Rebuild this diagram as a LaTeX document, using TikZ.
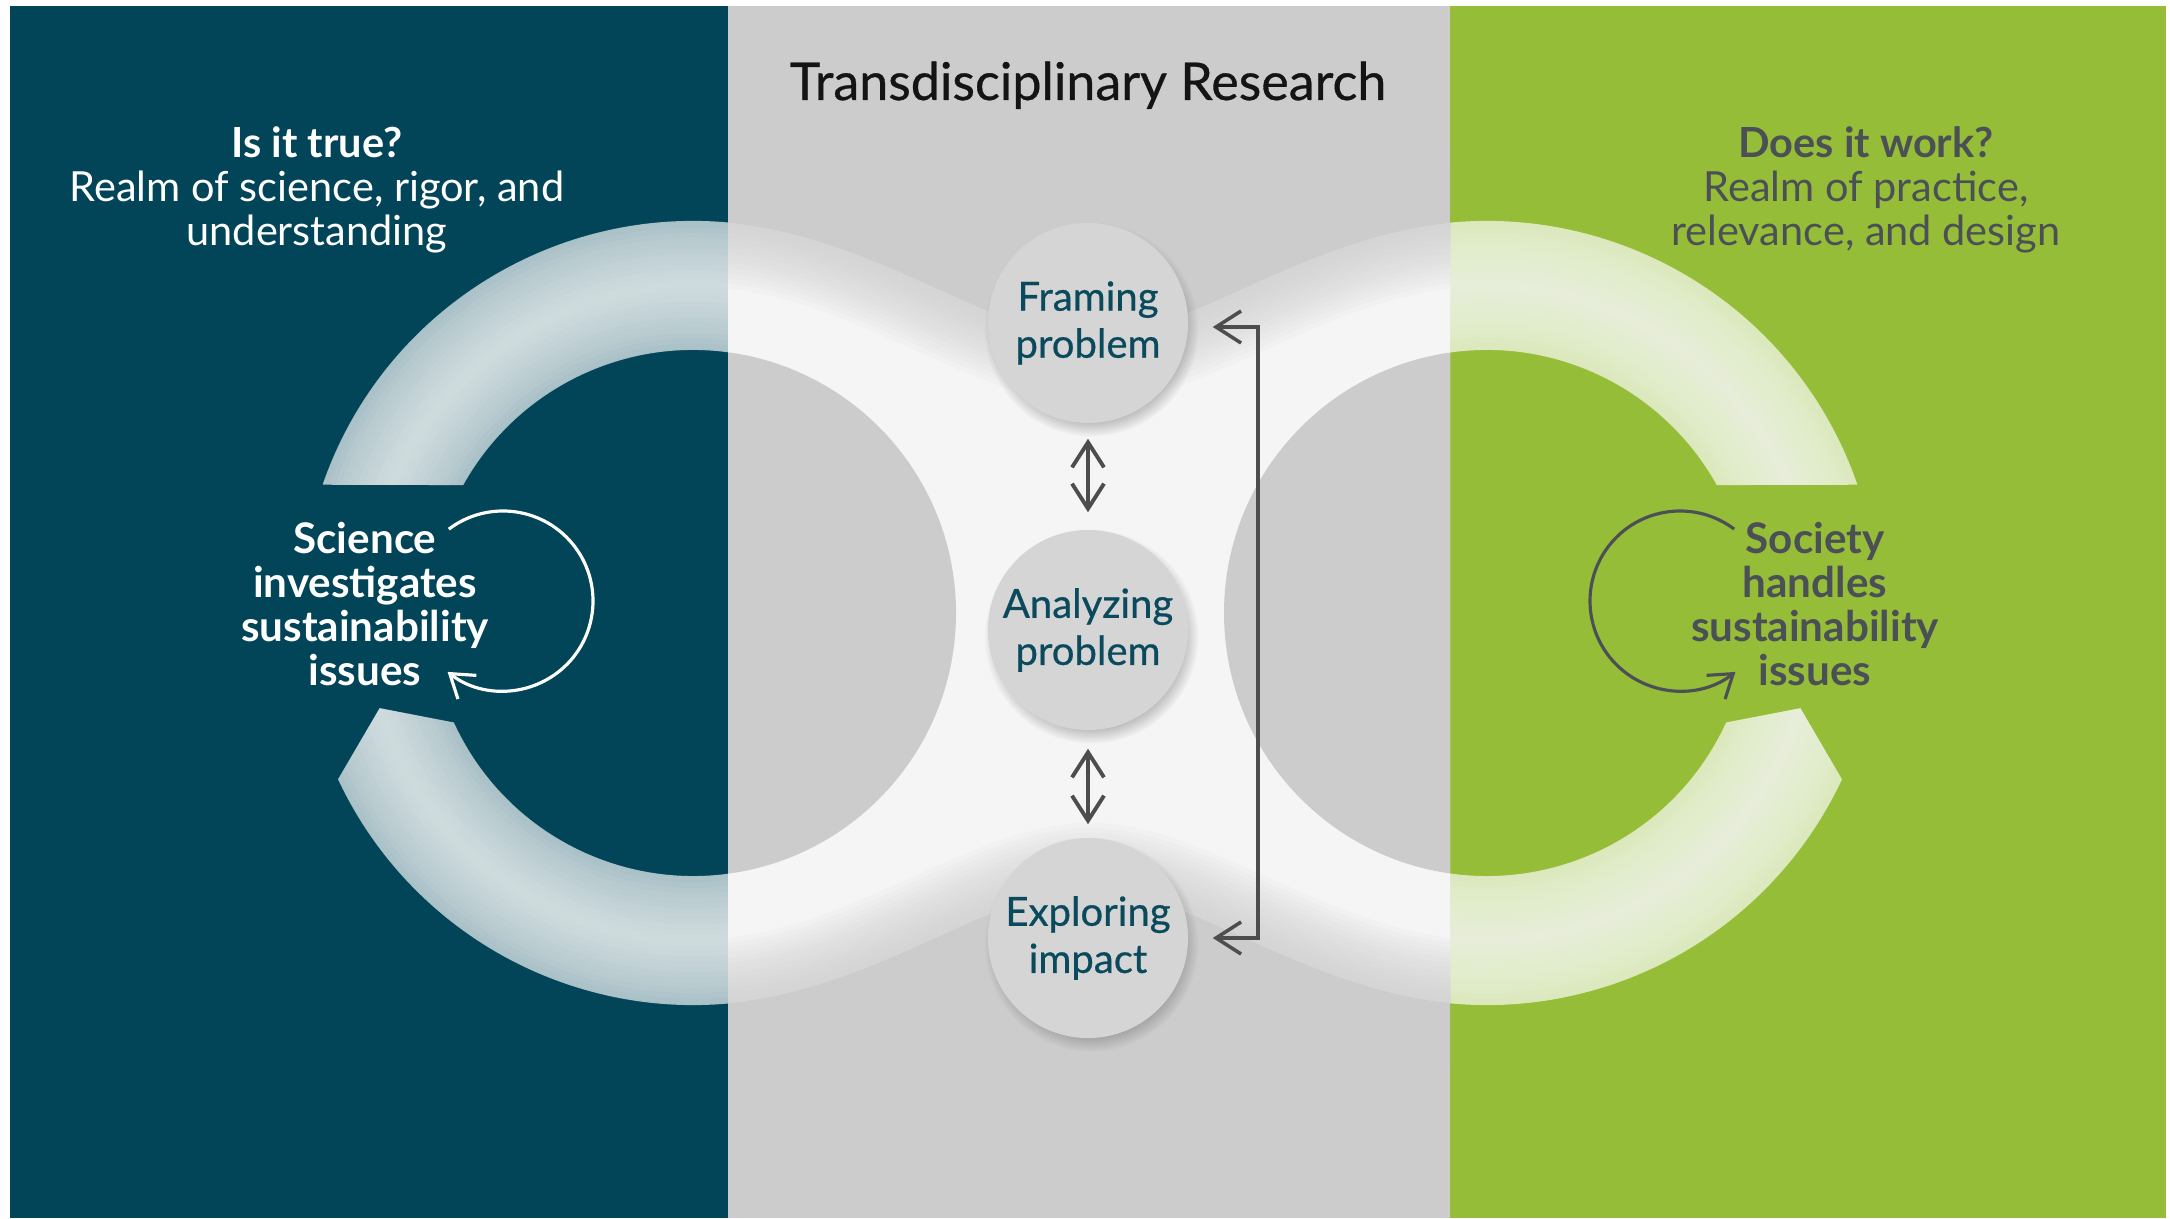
\documentclass[tikz,border=0pt]{standalone}
\usepackage{fontspec}
\setmainfont{Lato}
\newfontfamily\medfont{Lato}[FakeBold=0.6]
\usetikzlibrary{arrows.meta,shadows,fadings}
\definecolor{panelteal}{RGB}{2,69,89}
\definecolor{panelgray}{RGB}{204,204,204}
\definecolor{panelgreen}{RGB}{150,189,56}
\definecolor{nodefill}{RGB}{213,213,213}
\definecolor{nodetext}{RGB}{10,74,92}
\definecolor{darktext}{RGB}{75,80,87}
\definecolor{arrowgray}{RGB}{77,77,77}
\definecolor{titlecol}{RGB}{20,20,20}
\def\bridgepath{(693,997) .. controls (860,997) and (990,880) .. (1090,880) .. controls (1190,880) and (1320,997) .. (1487,997) -- (1700,997) -- (1700,213) -- (1487,213) .. controls (1320,213) and (1190,330) .. (1090,330) .. controls (990,330) and (860,213) .. (693,213) -- (480,213) -- (480,997) -- cycle}
\tikzset{
  stage/.style={circle, minimum size=2cm, inner sep=0pt, fill=nodefill, text=nodetext,
    font=\medfont\fontsize{11.4}{13.4}\selectfont, align=center,
    circular drop shadow={shadow xshift=0.03cm, shadow yshift=-0.06cm, shadow scale=1.07, opacity=0.45, fill=black!55}},
  sidetext/.style={font=\fontsize{12}{12.6}\selectfont\bfseries, align=center},
  toptext/.style={font=\fontsize{11.8}{12.5}\selectfont, align=center},
  arr/.style={draw=arrowgray, line width=1.1pt},
  loop/.style={line width=0.9pt, -{Straight Barb[length=0.22cm, width=0.3cm]}}
}
\begin{document}
\begin{tikzpicture}[x=0.01cm, y=0.01cm, >={Straight Barb[length=0.25cm, width=0.32cm]}]
\useasboundingbox (0,0) rectangle (2170,1218);
\fill[white] (0,0) rectangle (2170,1218);
\fill[panelteal] (10,0) rectangle (728,1212);
\fill[panelgray] (728,0) rectangle (1450,1212);
\fill[panelgreen] (1450,0) rectangle (2166,1212);

\coordinate (LC) at (693,605);
\coordinate (RC) at (1487,605);

% left ring
\begin{scope}
  \clip (10,0) rectangle (728,1212);
  \clip ([shift={(160.9:392)}]LC) arc[start angle=160.9, end angle=-154.9, radius=392]
     -- ([shift={(196.9:327.5)}]LC) -- ([shift={(-155.4:263)}]LC)
     arc[start angle=-155.4, end angle=150.9, radius=263] -- cycle;
  \fill[white, opacity=0.66] (0,0) rectangle (1100,1218);
  \foreach \w in {1.26,1.155,1.05,0.945,0.84,0.735,0.63,0.525,0.42,0.315,0.21,0.105}{\draw[white, opacity=0.055, line width=\w cm] (LC) circle[radius=327.5];}
\end{scope}

% right ring
\begin{scope}
  \clip (1450,0) rectangle (2166,1212);
  \clip ([shift={(19.1:392)}]RC) arc[start angle=19.1, end angle=334.9, radius=392]
     -- ([shift={(343.1:327.5)}]RC) -- ([shift={(335.4:263)}]RC)
     arc[start angle=335.4, end angle=29.1, radius=263] -- cycle;
  \fill[white, opacity=0.66] (1000,0) rectangle (2170,1218);
  \foreach \w in {1.26,1.155,1.05,0.945,0.84,0.735,0.63,0.525,0.42,0.315,0.21,0.105}{\draw[white, opacity=0.055, line width=\w cm] (RC) circle[radius=327.5];}
\end{scope}

% middle bridge
\begin{scope}
  \clip (728,0) rectangle (1450,1212);
  \fill[white, opacity=0.82] \bridgepath;
  \foreach \w in {1.3,1.2,1.1,1.0,0.9,0.8,0.7,0.6,0.5,0.4,0.3,0.2,0.1}{\draw[panelgray, opacity=0.09, line width=\w cm] \bridgepath;}
  \fill[panelgray] (LC) circle[radius=263];
  \fill[panelgray] (RC) circle[radius=263];
\end{scope}

% texts
\node[anchor=base, font=\medfont\fontsize{14.8}{16}\selectfont, text=titlecol] (title) at (1088,1118) {Transdisciplinary Research};
\node[toptext, text=white] (lt) at (317,1028) {{\bfseries Is it true?}\\Realm of science, rigor, and\\understanding};
\node[toptext, text=darktext] (rt) at (1866,1028) {{\bfseries Does it work?}\\Realm of practice,\\relevance, and design};
\node[sidetext, text=white] (ls) at (365,614) {Science\\investigates\\sustainability\\issues};
\node[sidetext, text=darktext] (rs) at (1815,614) {Society\\handles\\sustainability\\issues};

% loop arrows
\coordinate (SL) at (503,617);
\coordinate (SR) at (1680,617);
\draw[loop, white] ([shift={(127:90)}]SL) arc[start angle=127, end angle=-128, radius=90];
\draw[loop, darktext] ([shift={(53:90)}]SR) arc[start angle=53, end angle=308, radius=90];

% stages
\node[stage] (F) at (1088,895) {Framing\\problem};
\node[stage] (A) at (1088,588) {Analyzing\\problem};
\node[stage] (E) at (1088,280) {Exploring\\impact};

\draw[arr, <->, shorten <=0.15cm, shorten >=0.17cm] (F.south) -- (A.north);
\draw[arr, <->, shorten <=0.18cm, shorten >=0.13cm] (A.south) -- (E.north);
\draw[arr, line width=1pt, <->] ([xshift=0.24cm, yshift=-0.04cm]F.east) -- ++(0.45cm,0) |- ([xshift=0.24cm]E.east);
\end{tikzpicture}
\end{document}
